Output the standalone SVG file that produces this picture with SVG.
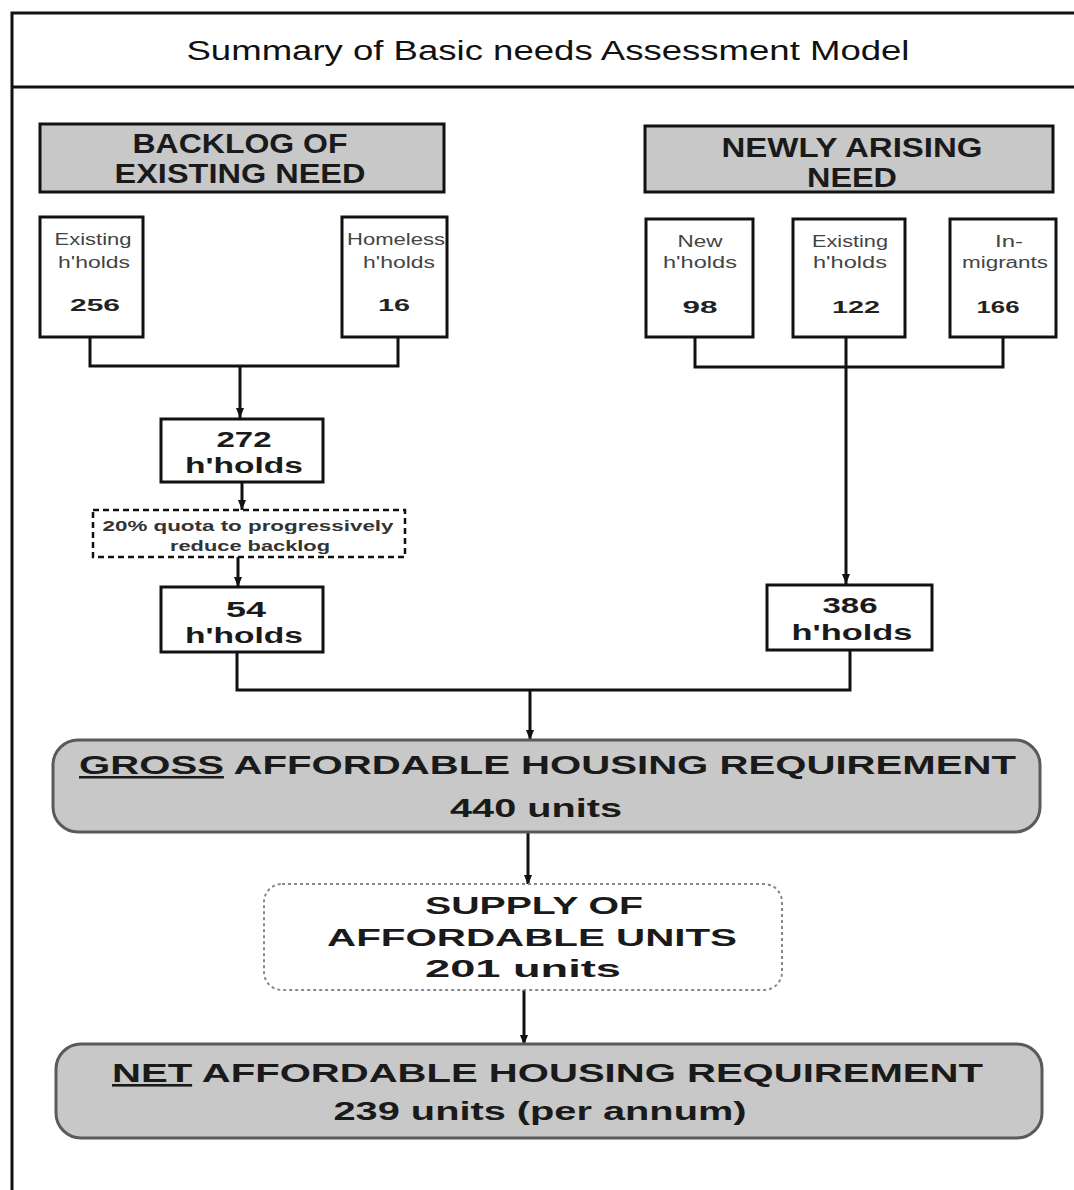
<svg xmlns="http://www.w3.org/2000/svg" width="1074" height="1190" viewBox="0 0 1074 1190">
<defs>
<marker id="arr" viewBox="0 0 10 8" refX="10" refY="4" markerWidth="10" markerHeight="8" markerUnits="userSpaceOnUse" orient="auto">
<path d="M0,0 L10,4 L0,8 z" fill="#111"/>
</marker>
<style>
text{font-family:"Liberation Sans",Arial,sans-serif;fill:#1a1a1a;text-anchor:middle}
.b{font-weight:bold}
.hdr{fill:#c8c8c8;stroke:#111;stroke-width:3}
.sm{fill:#fff;stroke:#111;stroke-width:3}
.lbl{font-size:16px;fill:#444}
.num{font-size:17px;font-weight:bold;fill:#222}
.mid{fill:#fff;stroke:#111;stroke-width:3}
.big{fill:#c8c8c8;stroke:#5a5a5a;stroke-width:3}
.con{fill:none;stroke:#111;stroke-width:3}
</style>
</defs>
<rect width="1074" height="1190" fill="#fff"/>
<g id="frame">
<path d="M12,1190 V13 H1074" fill="none" stroke="#111" stroke-width="3"/>
<line x1="11" y1="87" x2="1074" y2="87" stroke="#111" stroke-width="3"/>
<text x="548" y="60" style="font-size:27px;fill:#111" textLength="723" lengthAdjust="spacingAndGlyphs">Summary of Basic needs Assessment Model</text>
</g>
<g id="connectors">
<polyline class="con" points="90,337 90,366 398,366 398,337"/>
<line class="con" x1="240" y1="366" x2="240" y2="418" marker-end="url(#arr)"/>
<polyline class="con" points="695,337 695,367 1003,367 1003,337"/>
<line class="con" x1="846" y1="337" x2="846" y2="584" marker-end="url(#arr)"/>
<line class="con" x1="242" y1="482" x2="242" y2="510" marker-end="url(#arr)"/>
<line class="con" x1="238" y1="557" x2="238" y2="587" marker-end="url(#arr)"/>
<polyline class="con" points="237,652 237,690 850,690 850,650"/>
<line class="con" x1="530" y1="690" x2="530" y2="740" marker-end="url(#arr)"/>
<line class="con" x1="528" y1="832" x2="528" y2="885" marker-end="url(#arr)"/>
<line class="con" x1="524" y1="990" x2="524" y2="1045" marker-end="url(#arr)"/>
</g>
<g id="backlog">
<rect class="hdr" x="40" y="124" width="404" height="68"/>
<text class="b" x="240" y="153" style="font-size:27px" textLength="215" lengthAdjust="spacingAndGlyphs">BACKLOG OF</text>
<text class="b" x="240" y="183" style="font-size:27px" textLength="251" lengthAdjust="spacingAndGlyphs">EXISTING NEED</text>
</g>
<g id="newly">
<rect class="hdr" x="645" y="126" width="408" height="66"/>
<text class="b" x="852" y="157" style="font-size:27px" textLength="261" lengthAdjust="spacingAndGlyphs">NEWLY ARISING</text>
<text class="b" x="852" y="187" style="font-size:27px" textLength="90" lengthAdjust="spacingAndGlyphs">NEED</text>
</g>
<g id="existing-backlog">
<rect class="sm" x="40" y="217" width="103" height="120"/>
<text class="lbl" x="93" y="245" textLength="77" lengthAdjust="spacingAndGlyphs">Existing</text>
<text class="lbl" x="94" y="268" textLength="72" lengthAdjust="spacingAndGlyphs">h'holds</text>
<text class="num" x="95" y="311" textLength="50" lengthAdjust="spacingAndGlyphs">256</text>
</g>
<g id="homeless">
<rect class="sm" x="342" y="217" width="105" height="120"/>
<text class="lbl" x="396" y="245" textLength="98" lengthAdjust="spacingAndGlyphs">Homeless</text>
<text class="lbl" x="399" y="268" textLength="72" lengthAdjust="spacingAndGlyphs">h'holds</text>
<text class="num" x="394" y="311" textLength="32" lengthAdjust="spacingAndGlyphs">16</text>
</g>
<g id="new-hholds">
<rect class="sm" x="646" y="219" width="107" height="118"/>
<text class="lbl" x="700" y="247" textLength="45" lengthAdjust="spacingAndGlyphs">New</text>
<text class="lbl" x="700" y="268" textLength="74" lengthAdjust="spacingAndGlyphs">h'holds</text>
<text class="num" x="700" y="313" textLength="35" lengthAdjust="spacingAndGlyphs">98</text>
</g>
<g id="existing-new">
<rect class="sm" x="793" y="219" width="112" height="118"/>
<text class="lbl" x="850" y="247" textLength="76" lengthAdjust="spacingAndGlyphs">Existing</text>
<text class="lbl" x="850" y="268" textLength="74" lengthAdjust="spacingAndGlyphs">h'holds</text>
<text class="num" x="856" y="313" textLength="48" lengthAdjust="spacingAndGlyphs">122</text>
</g>
<g id="in-migrants">
<rect class="sm" x="950" y="219" width="106" height="118"/>
<text class="lbl" x="1009" y="247" textLength="28" lengthAdjust="spacingAndGlyphs">In-</text>
<text class="lbl" x="1005" y="268" textLength="86" lengthAdjust="spacingAndGlyphs">migrants</text>
<text class="num" x="998" y="313" textLength="43" lengthAdjust="spacingAndGlyphs">166</text>
</g>
<g id="hholds-272">
<rect class="mid" x="161" y="419" width="162" height="63"/>
<text class="b" x="244" y="447" style="font-size:22px" textLength="55" lengthAdjust="spacingAndGlyphs">272</text>
<text class="b" x="244" y="473" style="font-size:22px" textLength="118" lengthAdjust="spacingAndGlyphs">h'holds</text>
</g>
<g id="quota">
<rect x="93" y="510" width="312" height="47" fill="#fff" stroke="#111" stroke-width="2.5" stroke-dasharray="6 4"/>
<text class="b" x="248" y="531" style="font-size:15px;fill:#333" textLength="291" lengthAdjust="spacingAndGlyphs">20% quota to progressively</text>
<text class="b" x="250" y="551" style="font-size:15px;fill:#333" textLength="160" lengthAdjust="spacingAndGlyphs">reduce backlog</text>
</g>
<g id="hholds-54">
<rect class="mid" x="161" y="587" width="162" height="65"/>
<text class="b" x="246" y="617" style="font-size:22px" textLength="40" lengthAdjust="spacingAndGlyphs">54</text>
<text class="b" x="244" y="643" style="font-size:22px" textLength="118" lengthAdjust="spacingAndGlyphs">h'holds</text>
</g>
<g id="hholds-386">
<rect class="mid" x="767" y="585" width="165" height="65"/>
<text class="b" x="850" y="613" style="font-size:22px" textLength="55" lengthAdjust="spacingAndGlyphs">386</text>
<text class="b" x="852" y="640" style="font-size:22px" textLength="121" lengthAdjust="spacingAndGlyphs">h'holds</text>
</g>
<g id="gross">
<rect class="big" x="53" y="740" width="987" height="92" rx="25"/>
<text class="b" x="79" y="774" style="font-size:25px;text-anchor:start" textLength="937" lengthAdjust="spacingAndGlyphs"><tspan text-decoration="underline">GROSS</tspan> AFFORDABLE HOUSING REQUIREMENT</text>
<text class="b" x="536" y="817" style="font-size:26px" textLength="172" lengthAdjust="spacingAndGlyphs">440 units</text>
</g>
<g id="supply">
<rect x="264" y="884" width="518" height="106" rx="18" fill="#fff" stroke="#888" stroke-width="2" stroke-dasharray="3 3"/>
<text class="b" x="534" y="914" style="font-size:24px" textLength="218" lengthAdjust="spacingAndGlyphs">SUPPLY OF</text>
<text class="b" x="532" y="946" style="font-size:24px" textLength="410" lengthAdjust="spacingAndGlyphs">AFFORDABLE UNITS</text>
<text class="b" x="523" y="977" style="font-size:24px" textLength="196" lengthAdjust="spacingAndGlyphs">201 units</text>
</g>
<g id="net">
<rect class="big" x="56" y="1044" width="986" height="94" rx="25"/>
<text class="b" x="112" y="1082" style="font-size:26px;text-anchor:start" textLength="871" lengthAdjust="spacingAndGlyphs"><tspan text-decoration="underline">NET</tspan> AFFORDABLE HOUSING REQUIREMENT</text>
<text class="b" x="540" y="1120" style="font-size:25px" textLength="413" lengthAdjust="spacingAndGlyphs">239 units (per annum)</text>
</g>
</svg>
